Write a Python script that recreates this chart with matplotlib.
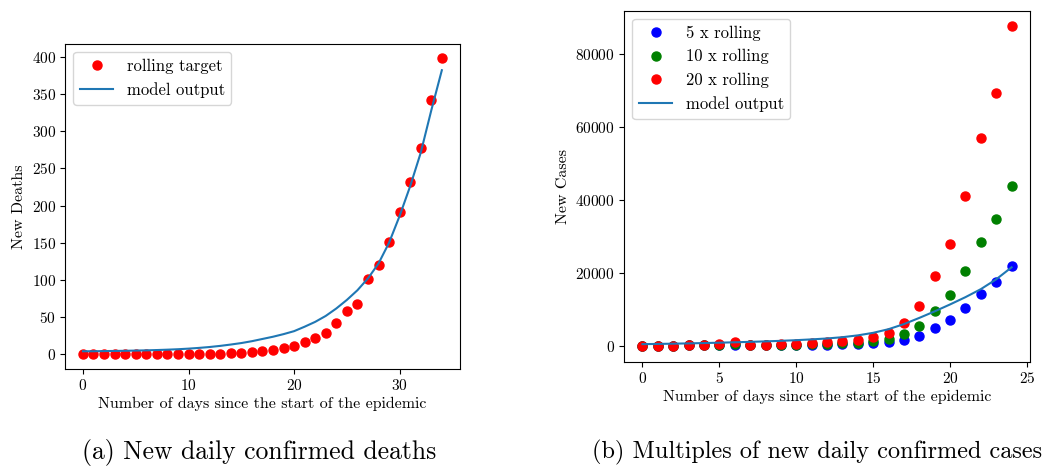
import matplotlib
matplotlib.use('Agg')
import matplotlib.pyplot as plt

# Computer Modern like the LaTeX original
plt.rcParams['font.family'] = 'serif'
plt.rcParams['font.serif'] = ['cmr10', 'DejaVu Serif']
plt.rcParams['mathtext.fontset'] = 'cm'
plt.rcParams['axes.formatter.use_mathtext'] = True

# (a) deaths
days_deaths = list(range(35))
rolling_deaths = [0, 0, 0, 0, 0, 0, 0, 0, 0, 0, 0, 0, 0.3, 0.5, 1.3, 2.2, 3.6,
                  4.5, 5.4, 8.5, 11.2, 16.6, 22, 28.7, 42, 57.5, 68, 100.7, 120,
                  151, 191, 231, 278, 342, 398]
model_deaths = [4, 4, 4.2, 4.4, 4.6, 4.9, 5.2, 5.6, 6.1, 6.7, 7.5, 8.5, 9.7,
                11.2, 13, 15, 17.5, 20.5, 23.5, 27, 31, 37, 43.5, 51.5, 61.5,
                73, 86, 102, 122, 150, 186, 226, 271, 328, 382]

# (b) cases
days_cases = list(range(25))
rolling_cases = [0, 0, 0, 10, 10, 19, 47, 14, 14, 19, 28, 42, 50, 68, 83, 115,
                 169, 307, 545, 956, 1391, 2059, 2845, 3468, 4383]
multiples = [5, 10, 20]
multiple_colors = ['b', 'g', 'r']
model_cases = [390, 450, 520, 600, 690, 790, 900, 1020, 1150, 1300, 1480, 1700,
               1950, 2300, 2800, 3500, 4500, 5900, 7600, 9400, 11300, 13300,
               15500, 18200, 21500]

fig = plt.figure(figsize=(10.5, 4.74), dpi=100)
ax1 = fig.add_axes([0.0619, 0.2215, 0.376, 0.6867])
ax2 = fig.add_axes([0.5943, 0.2373, 0.3867, 0.7405])

ax1.plot(days_deaths, rolling_deaths, 'o', color='r', ms=6.5, label='rolling target')
ax1.plot(days_deaths, model_deaths, color='C0', lw=1.5, label='model output')
ax1.set_xlabel('Number of days since the start of the epidemic', fontsize=11.5, labelpad=3)
ax1.set_ylabel('New Deaths', fontsize=11.5)
ax1.set_xticks([0, 10, 20, 30])
ax1.legend(loc='upper left', fontsize=12)

for m, c in zip(multiples, multiple_colors):
    ax2.plot(days_cases, [m * v for v in rolling_cases], 'o', color=c, ms=6.5,
             label='%d x rolling' % m)
ax2.plot(days_cases, model_cases, color='C0', lw=1.5, label='model output')
ax2.set_xlabel('Number of days since the start of the epidemic', fontsize=11.5, labelpad=3)
ax2.set_ylabel('New Cases', fontsize=11.5)
ax2.set_xticks([0, 5, 10, 15, 20, 25])
ax2.legend(loc='upper left', fontsize=12)

for ax in (ax1, ax2):
    ax.tick_params(labelsize=11, pad=3)

fig.text(0.2467, 0.0464, '(a) New daily confirmed deaths', ha='center', va='center', fontsize=18.5)
fig.text(0.778, 0.0464, '(b) Multiples of new daily confirmed cases', ha='center', va='center', fontsize=17.5)

plt.savefig('out.png', dpi=100)
